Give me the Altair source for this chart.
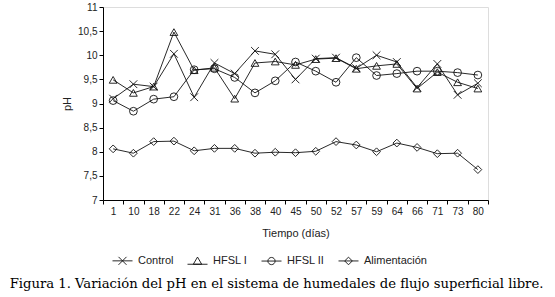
import altair as alt
import pandas as pd

dias = ["1", "10", "18", "22", "24", "31", "36", "38", "40", "45", "50", "52", "57", "59", "64", "66", "71", "73", "80"]
control = [9.10, 9.40, 9.35, 10.03, 9.13, 9.84, 9.62, 10.09, 10.02, 9.50, 9.93, 9.95, 9.73, 10.00, 9.86, 9.33, 9.82, 9.18, 9.42]
hfsl_1 = [9.49, 9.22, 9.35, 10.48, 9.69, 9.74, 9.10, 9.84, 9.87, 9.80, 9.92, 9.94, 9.72, 9.78, 9.82, 9.31, 9.65, 9.44, 9.31]
hfsl_2 = [9.06, 8.84, 9.09, 9.14, 9.70, 9.72, 9.54, 9.22, 9.47, 9.86, 9.67, 9.44, 9.95, 9.58, 9.62, 9.67, 9.67, 9.64, 9.59]
alimentacion = [8.06, 7.97, 8.21, 8.22, 8.02, 8.07, 8.07, 7.97, 7.99, 7.98, 8.01, 8.21, 8.14, 8.00, 8.18, 8.09, 7.96, 7.97, 7.63]

series_names = ["Control", "HFSL I", "HFSL II", "Alimentación"]
series_values = [control, hfsl_1, hfsl_2, alimentacion]

rows = []
for name, vals in zip(series_names, series_values):
    for d, v in zip(dias, vals):
        rows.append({"dia": d, "serie": name, "ph": v})
df = pd.DataFrame(rows)

# marker shapes (unit square paths)
marker_shapes = [
    "M-1,-1L1,1M1,-1L-1,1",
    "triangle-up",
    "circle",
    "diamond",
]
legend_shapes = [
    "M-1,0L1,0M-0.4,-0.4L0.4,0.4M0.4,-0.4L-0.4,0.4",
    "M-1,0.3L1,0.3M0,-0.42L0.42,0.3L-0.42,0.3Z",
    "M-1,0L1,0M-0.36,0A0.36,0.36 0 1,0 0.36,0A0.36,0.36 0 1,0 -0.36,0",
    "M-1,0L1,0M0,-0.38L0.38,0L0,0.38L-0.38,0Z",
]

FONT = "Liberation Sans"

x_enc = alt.X(
    "dia:O",
    sort=dias,
    scale=alt.Scale(type="band", paddingInner=0, paddingOuter=0),
    axis=alt.Axis(
        title="Tiempo (días)",
        tickBand="extent",
        labelAngle=0,
        labelFont=FONT,
        labelFontSize=10,
        labelColor="#222",
        labelPadding=2,
        tickSize=4,
        tickColor="black",
        domainColor="black",
        titleFont=FONT,
        titleFontSize=11,
        titleFontWeight="normal",
        titleColor="#222",
        titlePadding=11,
        grid=False,
    ),
)
y_enc = alt.Y(
    "ph:Q",
    scale=alt.Scale(domain=[7, 11], nice=False, zero=False),
    axis=alt.Axis(
        title="pH",
        values=[7, 7.5, 8, 8.5, 9, 9.5, 10, 10.5, 11],
        labelExpr="replace(toString(datum.value), '.', ',')",
        labelFont=FONT,
        labelFontSize=10,
        labelColor="#222",
        labelPadding=2,
        tickSize=4,
        tickColor="black",
        domainColor="black",
        titleFont=FONT,
        titleFontSize=11,
        titleFontWeight="normal",
        titleColor="#222",
        titleX=-31,
        grid=False,
    ),
)

lines = alt.Chart(df).mark_line(color="#111", strokeWidth=0.9).encode(
    x=x_enc, y=y_enc, detail="serie:N"
)

points = alt.Chart(df).mark_point(filled=False, color="#111", strokeWidth=0.9, size=60, opacity=1).encode(
    x=x_enc,
    y=y_enc,
    shape=alt.Shape("serie:N", scale=alt.Scale(domain=series_names, range=marker_shapes), legend=None),
)

legend_layer = alt.Chart(df).transform_filter("false").mark_point(
    filled=False, color="#111", strokeWidth=0.9
).encode(
    x=x_enc,
    y=y_enc,
    shape=alt.Shape(
        "serie:N",
        scale=alt.Scale(domain=series_names, range=legend_shapes),
        legend=alt.Legend(
            title=None,
            orient="none",
            direction="horizontal",
            legendX=9,
            legendY=243,
            symbolSize=400,
            symbolStrokeColor="#111",
            symbolFillColor="transparent",
            symbolStrokeWidth=0.9,
            symbolOpacity=1,
            labelFont=FONT,
            labelFontSize=11,
            labelColor="#222",
            labelOffset=5,
            columnPadding=11,
        ),
    ),
)

chart = (
    alt.layer(lines, points, legend_layer)
    .resolve_scale(shape="independent")
    .properties(
        width=385,
        height=193,
        autosize=alt.AutoSizeParams(type="none"),
        padding={"left": 103, "top": 7, "right": 67, "bottom": 97},
        title=alt.TitleParams(
            "Figura 1. Variación del pH en el sistema de humedales de flujo superficial libre.",
            orient="bottom",
            anchor="middle",
            font="DejaVu Serif",
            fontSize=13.2,
            fontWeight="normal",
            color="#000",
            offset=11,
            dx=-19,
        ),
    )
    .configure_view(stroke=None)
    .configure(background="white")
)

chart.save("out.html", embed_options={"renderer": "svg", "actions": False})
